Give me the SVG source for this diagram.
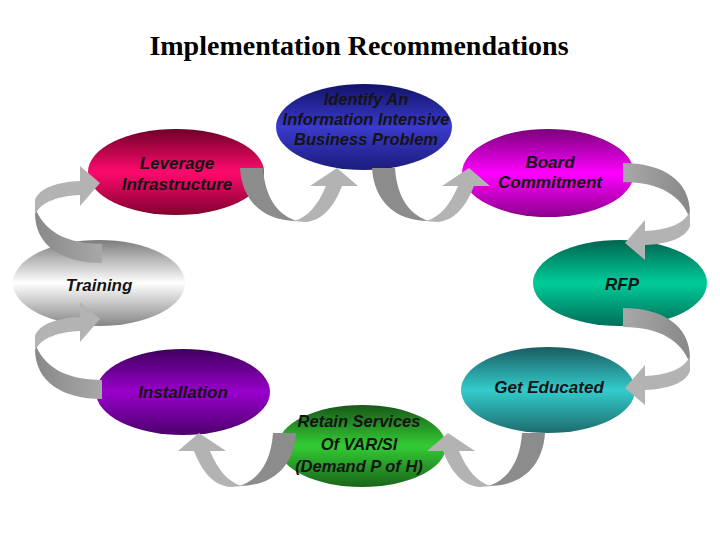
<svg xmlns="http://www.w3.org/2000/svg" xmlns:xlink="http://www.w3.org/1999/xlink" width="720" height="540" viewBox="0 0 720 540">
<style>
.title{font-family:"Liberation Serif","Times New Roman",serif;font-weight:bold;font-size:28px;fill:#000;text-anchor:middle}
.lbl{font-family:"Liberation Sans",Arial,sans-serif;font-weight:bold;font-style:italic;font-size:17px;fill:#141414;text-anchor:middle}
.sm{font-size:16.5px}
.dk{fill:#8c8c8c}
.lt{fill:#b3b3b3}
</style>
<defs>
<linearGradient id="gBlue" x1="0" y1="0" x2="0" y2="1"><stop offset="0" stop-color="#12126a"/><stop offset="0.5" stop-color="#3a3acc"/><stop offset="1" stop-color="#1c1c7c"/></linearGradient>
<linearGradient id="gPink" x1="0" y1="0" x2="0" y2="1"><stop offset="0" stop-color="#6e0026"/><stop offset="0.5" stop-color="#ff0a6e"/><stop offset="1" stop-color="#80002e"/></linearGradient>
<linearGradient id="gMag" x1="0" y1="0" x2="0" y2="1"><stop offset="0" stop-color="#7a007a"/><stop offset="0.5" stop-color="#ff00ff"/><stop offset="1" stop-color="#8c008c"/></linearGradient>
<linearGradient id="gTeal" x1="0" y1="0" x2="0" y2="1"><stop offset="0" stop-color="#006450"/><stop offset="0.5" stop-color="#00cc99"/><stop offset="1" stop-color="#006e58"/></linearGradient>
<linearGradient id="gGray" x1="0" y1="0" x2="0" y2="1"><stop offset="0" stop-color="#7c7c7c"/><stop offset="0.5" stop-color="#ffffff"/><stop offset="1" stop-color="#858585"/></linearGradient>
<linearGradient id="gCyan" x1="0" y1="0" x2="0" y2="1"><stop offset="0" stop-color="#1a5c62"/><stop offset="0.5" stop-color="#33cccc"/><stop offset="1" stop-color="#1e6c6e"/></linearGradient>
<linearGradient id="gPurp" x1="0" y1="0" x2="0" y2="1"><stop offset="0" stop-color="#3e005c"/><stop offset="0.5" stop-color="#9900cc"/><stop offset="1" stop-color="#4c006c"/></linearGradient>
<linearGradient id="gGreen" x1="0" y1="0" x2="0" y2="1"><stop offset="0" stop-color="#185818"/><stop offset="0.5" stop-color="#33cc33"/><stop offset="1" stop-color="#1a641a"/></linearGradient>
<linearGradient id="gSide" x1="0" y1="0" x2="1" y2="0"><stop offset="0" stop-color="#a8a8a8"/><stop offset="1" stop-color="#888888"/></linearGradient>
<g id="uArrow">
<path class="dk" d="M240,168 C242,200 262,221 297,221 C280,216 265,200 263,168 Z"/>
<path class="lt" d="M294,221 C308,217 318,205 326,186 L310,186 L337,168 L358,186 L342,186 C334,207 322,221 305,222 Z"/>
</g>
<g id="sArrow">
<path fill="url(#gSide)" d="M623,163 C662,163 690,180 690,213 L690,219 C682,196 660,182 623,182 Z"/>
<path class="lt" d="M690,211 L690,226 C686,238 668,244 645,245 L645,260 L625,243 L645,220 L645,231 C665,230 684,225 690,211 Z"/>
</g>
</defs>
<rect width="720" height="540" fill="#fff"/>
<text class="title" x="359" y="55">Implementation Recommendations</text>

<g id="identify"><ellipse cx="364" cy="127" rx="88" ry="43" fill="url(#gBlue)"/>
<text class="lbl sm" x="366" y="105">Identify An</text><text class="lbl sm" x="366" y="125">Information Intensive</text><text class="lbl sm" x="366" y="145">Business Problem</text></g>
<g id="leverage"><ellipse cx="176" cy="172" rx="88" ry="43" fill="url(#gPink)"/>
<text class="lbl" x="177" y="169">Leverage</text><text class="lbl" x="177" y="190">Infrastructure</text></g>
<g id="board"><ellipse cx="548" cy="173" rx="86" ry="44" fill="url(#gMag)"/>
<text class="lbl" x="550" y="168">Board</text><text class="lbl" x="550" y="188">Commitment</text></g>
<g id="rfp"><ellipse cx="620" cy="283" rx="87" ry="43" fill="url(#gTeal)"/>
<text class="lbl" x="622" y="290">RFP</text></g>
<g id="training"><ellipse cx="99" cy="283" rx="86" ry="43" fill="url(#gGray)"/>
<text class="lbl" x="99" y="291">Training</text></g>
<g id="educated"><ellipse cx="548" cy="390" rx="87" ry="43" fill="url(#gCyan)"/>
<text class="lbl" x="549" y="393">Get Educated</text></g>
<g id="installation"><ellipse cx="183" cy="392" rx="87" ry="43" fill="url(#gPurp)"/>
<text class="lbl" x="183" y="398">Installation</text></g>
<g id="retain"><ellipse cx="362" cy="446" rx="84" ry="41" fill="url(#gGreen)"/>
<text class="lbl sm" x="359" y="427">Retain Services</text><text class="lbl sm" x="359" y="450">Of VAR/SI</text><text class="lbl sm" x="359" y="472">(Demand P of H)</text></g>

<g id="connectors">
<use xlink:href="#uArrow"/>
<use xlink:href="#uArrow" transform="translate(132,0)"/>
<use xlink:href="#sArrow"/>
<use xlink:href="#sArrow" transform="translate(0,145)"/>
<use xlink:href="#uArrow" transform="translate(785,265) scale(-1,1)"/>
<use xlink:href="#uArrow" transform="translate(536,265) scale(-1,1)"/>
<use xlink:href="#sArrow" transform="translate(725,562) scale(-1,-1)"/>
<use xlink:href="#sArrow" transform="translate(725,426) scale(-1,-1)"/>
</g>
</svg>
